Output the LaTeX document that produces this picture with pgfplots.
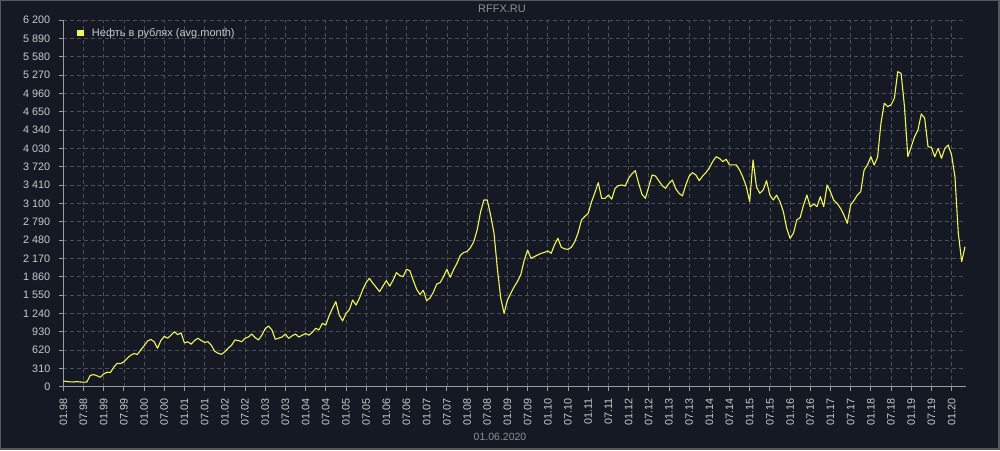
\documentclass[border=0pt]{standalone}
\usepackage{fontspec}
\setmainfont{Liberation Sans}
\usepackage{pgfplots}
\pgfplotsset{compat=1.18}
\definecolor{bg}{HTML}{151923}
\definecolor{framec}{HTML}{55585E}
\definecolor{gridc}{HTML}{4A4F5B}
\definecolor{axc}{HTML}{9A9CA0}
\definecolor{txt}{HTML}{C8CACD}
\definecolor{dim}{HTML}{8E9094}
\definecolor{oil}{HTML}{F4F45C}
\begin{document}
\begin{tikzpicture}[x=1pt,y=1pt]
\useasboundingbox (0,0) rectangle (1000,450);
\fill[framec] (0,0) rectangle (1000,450);
\fill[bg] (1,2) rectangle (998,449);
\node[text=dim, font=\fontsize{11}{13}\selectfont] at (502,441) {RFFX.RU};
\node[text=dim, font=\fontsize{10.5}{12}\selectfont] at (500,13) {01.06.2020};
\begin{axis}[
  at={(63.3pt,63.3pt)}, anchor=south west,
  scale only axis, width=902.4pt, height=366.7pt,
  xmin=0, xmax=268.2, ymin=0, ymax=6200,
  axis lines*=left,
  axis line style={axc, line width=0.8pt, -},
  tick style={axc, line width=0.8pt},
  tick align=outside, major tick length=4.5pt,
  grid=major,
  major grid style={gridc, line width=0.7pt, dash pattern=on 4pt off 3pt},
  /pgf/number format/assume math mode=true,
  ytick={0,310,620,930,1240,1550,1860,2170,2480,2790,3100,3410,3720,4030,4340,4650,4960,5270,5580,5890,6200},
  yticklabels={0,310,620,930,1\ 240,1\ 550,1\ 860,2\ 170,2\ 480,2\ 790,3\ 100,3\ 410,3\ 720,4\ 030,4\ 340,4\ 650,4\ 960,5\ 270,5\ 580,5\ 890,6\ 200},
  yticklabel style={text=txt, font=\fontsize{10.8}{12}\selectfont},
  yticklabel shift=5pt,
  xtick={0,6,...,264},
  xticklabels={01.98,07.98,01.99,07.99,01.00,07.00,01.01,07.01,01.02,07.02,01.03,07.03,01.04,07.04,01.05,07.05,01.06,07.06,01.07,07.07,01.08,07.08,01.09,07.09,01.10,07.10,01.11,07.11,01.12,07.12,01.13,07.13,01.14,07.14,01.15,07.15,01.16,07.16,01.17,07.17,01.18,07.18,01.19,07.19,01.20},
  xticklabel style={rotate=90, anchor=east, text=txt, font=\fontsize{10.8}{12}\selectfont},
  xticklabel shift=4pt,
  legend style={at={(0.0155,0.9640)}, anchor=west, draw=none, fill=none, text=txt,
    font=\fontsize{11}{13}\selectfont, inner sep=0pt},
  legend image code/.code={\fill[oil, draw=none] (0pt,-3.2pt) rectangle (6.5pt,3.2pt); \path[draw=none, fill=none] (0pt,0pt) -- (12.5pt,0pt);},
]
\addplot[oil, line width=1.1pt, line join=round] coordinates {
(0,96)(1,88)(2,82)(3,80)(4,86)(5,80)(6,76)(7,80)(8,190)(9,205)
(10,185)(11,160)(12,215)(13,245)(14,240)(15,330)(16,395)(17,390)(18,420)(19,480)
(20,530)(21,560)(22,545)(23,620)(24,690)(25,770)(26,800)(27,760)(28,650)(29,780)
(30,850)(31,820)(32,870)(33,930)(34,880)(35,910)(36,740)(37,760)(38,720)(39,780)
(40,820)(41,780)(42,750)(43,760)(44,700)(45,600)(46,565)(47,548)(48,590)(49,650)
(50,700)(51,790)(52,780)(53,760)(54,818)(55,840)(56,890)(57,830)(58,790)(59,870)
(60,980)(61,1026)(62,960)(63,801)(64,820)(65,840)(66,890)(67,818)(68,860)(69,890)
(70,840)(71,870)(72,900)(73,870)(74,920)(75,987)(76,960)(77,1072)(78,1040)(79,1200)
(80,1325)(81,1437)(82,1212)(83,1111)(84,1240)(85,1300)(86,1466)(87,1380)(88,1495)(89,1640)
(90,1760)(91,1833)(92,1748)(93,1680)(94,1607)(95,1700)(96,1793)(97,1700)(98,1800)(99,1928)
(100,1880)(101,1860)(102,1985)(103,1960)(104,1800)(105,1650)(106,1560)(107,1630)(108,1454)(109,1500)
(110,1600)(111,1737)(112,1760)(113,1860)(114,1985)(115,1850)(116,1980)(117,2087)(118,2220)(119,2270)
(120,2285)(121,2350)(122,2452)(123,2650)(124,2950)(125,3157)(126,3157)(127,2900)(128,2600)(129,2000)
(130,1500)(131,1240)(132,1466)(133,1580)(134,1691)(135,1780)(136,1900)(137,2142)(138,2311)(139,2170)
(140,2200)(141,2227)(142,2255)(143,2270)(144,2295)(145,2255)(146,2400)(147,2509)(148,2357)(149,2330)
(150,2323)(151,2357)(152,2450)(153,2600)(154,2819)(155,2880)(156,2930)(157,3128)(158,3280)(159,3450)
(160,3185)(161,3185)(162,3241)(163,3170)(164,3354)(165,3400)(166,3410)(167,3393)(168,3523)(169,3600)
(170,3652)(171,3438)(172,3250)(173,3185)(174,3382)(175,3579)(176,3562)(177,3480)(178,3400)(179,3354)
(180,3438)(181,3495)(182,3350)(183,3270)(184,3225)(185,3410)(186,3560)(187,3619)(188,3580)(189,3484)
(190,3560)(191,3619)(192,3700)(193,3805)(194,3889)(195,3860)(196,3805)(197,3845)(198,3750)(199,3750)
(200,3750)(201,3665)(202,3540)(203,3382)(204,3128)(205,3833)(206,3382)(207,3270)(208,3326)(209,3484)
(210,3240)(211,3157)(212,3240)(213,3128)(214,2959)(215,2678)(216,2509)(217,2593)(218,2819)(219,2860)
(220,3072)(221,3241)(222,3040)(223,3090)(224,3044)(225,3213)(226,3044)(227,3410)(228,3297)(229,3150)
(230,3100)(231,3016)(232,2903)(233,2762)(234,3072)(235,3150)(236,3240)(237,3297)(238,3664)(239,3748)
(240,3889)(241,3748)(242,3880)(243,4450)(244,4792)(245,4736)(246,4764)(247,4877)(248,5326)(249,5298)
(250,4735)(251,3889)(252,4058)(253,4227)(254,4340)(255,4611)(256,4540)(257,4058)(258,4047)(259,3889)
(260,4030)(261,3861)(262,4030)(263,4087)(264,3918)(265,3551)(266,2594)(267,2114)(268,2367)
};
\addlegendentry{Нефть в рублях (avg.month)}
\end{axis}
\end{tikzpicture}
\end{document}
